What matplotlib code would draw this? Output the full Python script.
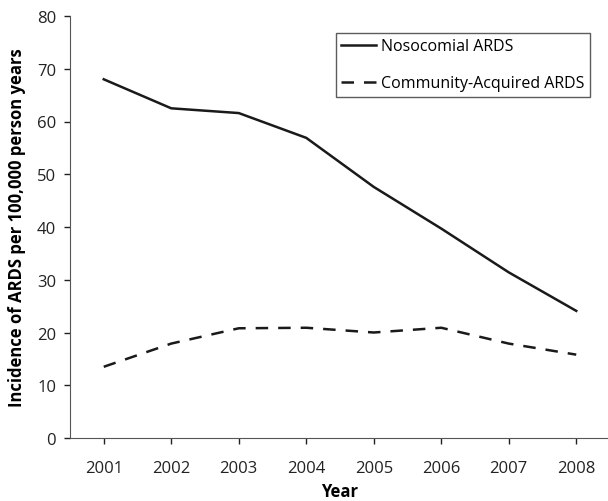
import numpy as np
import matplotlib
matplotlib.use('Agg')
import matplotlib.pyplot as plt

plt.rcParams['font.family'] = ['Open Sans', 'DejaVu Sans']

years = [2001, 2002, 2003, 2004, 2005, 2006, 2007, 2008]
nosocomial = [68.0, 62.5, 61.6, 56.9, 47.6, 39.7, 31.4, 24.1]
community = [13.5, 17.9, 20.8, 20.9, 20.0, 20.9, 17.9, 15.8]

fig = plt.figure(figsize=(6.08, 5.02), dpi=100)
ax = fig.add_axes([70/608, 1 - 439/502, 540/608, 422/502])

ax.plot(years, nosocomial, color='#1a1a1a', lw=1.8, label='Nosocomial ARDS')
ax.plot(years, community, color='#1a1a1a', lw=1.8, dashes=(5, 4), label='Community-Acquired ARDS')

ax.set_xlim(2000.5, 2008.5)
ax.set_ylim(0, 80)
ax.set_xticks(years)
ax.set_yticks(np.arange(0, 81, 10))
ax.tick_params(labelsize=12, colors='#222222', length=4, width=1, pad=12)
ax.tick_params(axis='y', pad=6)
for side in ['top', 'right']:
    ax.spines[side].set_visible(False)
for side in ['left', 'bottom']:
    ax.spines[side].set_color('#555555')

ax.set_xlabel('Year', fontsize=12, fontweight='bold', labelpad=4)
ax.set_ylabel('Incidence of ARDS per 100,000 person years', fontsize=12, fontweight='bold', labelpad=8)

leg = ax.legend(loc='upper right', bbox_to_anchor=(0.963, 0.96), fontsize=11.5, frameon=True,
                fancybox=False, handlelength=2.2, handletextpad=0.3, borderpad=0.35,
                labelspacing=1.3, borderaxespad=0)
leg.get_frame().set_edgecolor('#333333')
leg.get_frame().set_linewidth(1)

fig.savefig('out.png', dpi=100)
